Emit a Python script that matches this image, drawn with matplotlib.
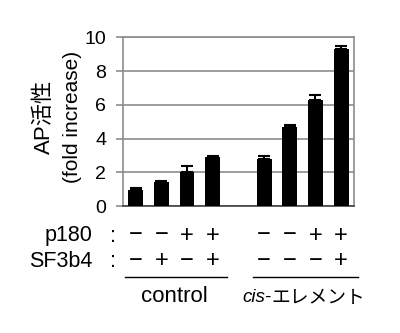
import numpy as np
import matplotlib.pyplot as plt
import matplotlib.transforms as mtransforms

plt.rcParams['font.family'] = ['Liberation Sans', 'Noto Sans CJK JP', 'DejaVu Sans']

# data
pos    = [0, 1, 2, 3, 5, 6, 7, 8]
values = [0.95, 1.44, 2.04, 2.90, 2.77, 4.66, 6.30, 9.33]
errs   = [0.12, 0.04, 0.35, 0.06, 0.17, 0.12, 0.28, 0.13]
p180   = ['−', '−', '+', '+', '−', '−', '+', '+']
sf3b4  = ['−', '+', '−', '+', '−', '−', '−', '+']
groups = ['control', 'cis-', 'エレメント']

fig = plt.figure(figsize=(4.0, 3.33), dpi=100)
ax = fig.add_axes([0.307, 0.381, 0.578, 0.507])

ax.bar(pos, values, width=0.58, color='black', zorder=3)
ax.errorbar(pos, values, yerr=[np.zeros(len(errs)), errs], fmt='none',
            ecolor='black', elinewidth=1.5, capsize=4.5, capthick=1.5, zorder=4)

ax.set_xlim(-0.5, 8.5)
ax.set_ylim(0, 10)
ax.set_yticks([0, 2, 4, 6, 8, 10])
ax.set_xticks([])
ax.tick_params(axis='y', labelsize=14, length=5, width=1.2, color='#8c8c8c', pad=7)
ax.yaxis.grid(True, color='#8c8c8c', linewidth=1.2, zorder=0)
for s in ['left', 'right', 'top']:
    ax.spines[s].set_color('#8c8c8c')
    ax.spines[s].set_linewidth(1.2)
ax.spines['bottom'].set_color('#404040')
ax.spines['bottom'].set_linewidth(1.2)

fig.text(0.11, 0.65, 'AP活性', rotation=90, ha='center', va='center', fontsize=16)
fig.text(0.18, 0.65, '(fold increase)', rotation=90, ha='center', va='center', fontsize=15)

def fy(px):
    return 1 - px / 333

tr = mtransforms.blended_transform_factory(ax.transData, fig.transFigure)
y1 = fy(241.5)
y2 = fy(267)
fig.text(0.23, y1, 'p180', ha='right', va='baseline', fontsize=15.5)
fig.text(0.23, y2, 'SF3b4', ha='right', va='baseline', fontsize=15.5)
fig.text(0.283, y1, ':', ha='center', va='baseline', fontsize=15.5)
fig.text(0.283, y2, ':', ha='center', va='baseline', fontsize=15.5)
for x, a, b in zip(pos, p180, sf3b4):
    ax.text(x, y1, a, transform=tr, ha='center', va='baseline', fontsize=17)
    ax.text(x, y2, b, transform=tr, ha='center', va='baseline', fontsize=17)

yl = fy(276.7)
yg = fy(302.5)
ax.plot([-0.42, 3.56], [yl, yl], transform=tr, color='black', lw=1, clip_on=False)
ax.plot([4.57, 8.65], [yl, yl], transform=tr, color='black', lw=1, clip_on=False)
ax.text(1.5, yg, groups[0], transform=tr, ha='center', va='baseline', fontsize=16)
ax.text(5.28, yg, groups[1], transform=tr, ha='right', va='baseline', fontsize=13.5, style='italic')
ax.text(5.28, yg, groups[2], transform=tr, ha='left', va='baseline', fontsize=13.5,
        family=['Noto Sans CJK JP', 'DejaVu Sans'])

fig.savefig('out.png', dpi=100)
